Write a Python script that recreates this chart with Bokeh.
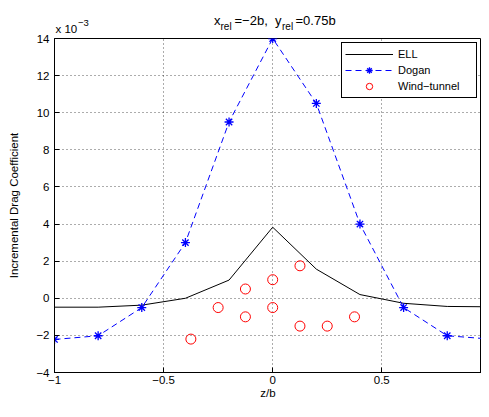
from bokeh.plotting import figure
from bokeh.layouts import column
from bokeh.models import Range1d, FixedTicker, Label, Legend, LegendItem
from bokeh.embed import file_html
from bokeh.resources import INLINE

# ---- data ----
z_ell = [-1.0, -0.8, -0.6, -0.4, -0.2, 0.0, 0.2, 0.4, 0.6, 0.8, 1.0]
cd_ell = [-0.48, -0.48, -0.37, 0.0, 0.98, 3.83, 1.57, 0.2, -0.27, -0.44, -0.46]
z_dogan = [-1.0, -0.8, -0.6, -0.4, -0.2, 0.0, 0.2, 0.4, 0.6, 0.8, 1.0]
cd_dogan = [-2.22, -2.02, -0.5, 3.0, 9.5, 14.0, 10.5, 4.0, -0.5, -2.02, -2.2]
z_wt = [-0.375, -0.25, -0.125, -0.125, 0.0, 0.0, 0.125, 0.125, 0.25, 0.375]
cd_wt = [-2.2, -0.5, 0.5, -1.0, 1.0, -0.5, 1.75, -1.5, -1.5, -1.0]
x_ticks = [-1, -0.5, 0, 0.5]
x_tick_labels = ["\u22121", "\u22120.5", "0", "0.5"]
y_ticks = [-4, -2, 0, 2, 4, 6, 8, 10, 12, 14]
y_tick_labels = ["\u22124", "\u22122", "0", "2", "4", "6", "8", "10", "12", "14"]

FONT = "Liberation Sans"
FS = "11.5px"
W = 481
TOP_H = 34
LEFT = 54

# ---- header strip (title + exponent); its frame is aligned with the plot frame ----
tf = figure(width=W, height=TOP_H, output_backend="svg", toolbar_location=None, title=None,
            x_range=Range1d(LEFT, W), y_range=Range1d(TOP_H, 0),
            x_axis_type=None, y_axis_type=None, min_border=0)
tf.min_border_left = LEFT
tf.outline_line_color = None
tf.grid.visible = False
tf.background_fill_color = "white"
tf.border_fill_color = "white"

title_parts = [
    ("x", 213.5, 20, "13px"),
    ("rel", 220.0, 26, "10px"),
    ("=\u22122b,", 234.0, 20, "13px"),
    ("y", 274.5, 20, "13px"),
    ("rel", 281.5, 26, "10px"),
    ("=0.75b", 295.0, 20, "13px"),
]
for txt, xx, yy, fs in title_parts:
    tf.add_layout(Label(x=xx, y=yy, text=txt, text_font=FONT, text_font_size=fs,
                        text_color="black", text_baseline="alphabetic", text_align="left"))
tf.add_layout(Label(x=55, y=28, text="x 10", text_font=FONT, text_font_size=FS,
                    text_color="black", text_baseline="alphabetic", text_align="left"))
tf.add_layout(Label(x=77.5, y=22.5, text="\u22123", text_font=FONT, text_font_size="9.5px",
                    text_color="black", text_baseline="alphabetic", text_align="left"))

# ---- main plot ----
p = figure(width=W, height=401 - TOP_H, output_backend="svg", toolbar_location=None, title=None,
           x_range=Range1d(-1, 0.957), y_range=Range1d(-4, 14),
           min_border_left=LEFT, min_border_top=38 - TOP_H, min_border_right=0, min_border_bottom=0)
p.background_fill_color = "white"
p.border_fill_color = "white"
p.outline_line_color = "black"
p.outline_line_width = 1
p.outline_line_alpha = 1

for ax in (p.xaxis[0], p.yaxis[0]):
    ax.axis_line_color = "black"
    ax.major_tick_line_color = "black"
    ax.major_tick_in = 5
    ax.major_tick_out = 0
    ax.minor_tick_in = 0
    ax.minor_tick_out = 0
    ax.major_label_text_font = FONT
    ax.major_label_text_font_size = FS
    ax.major_label_text_color = "black"
    ax.axis_label_text_font = FONT
    ax.axis_label_text_font_size = FS
    ax.axis_label_text_font_style = "normal"
    ax.axis_label_text_color = "black"

p.xaxis.ticker = FixedTicker(ticks=x_ticks)
p.xaxis.major_label_overrides = {t: l for t, l in zip(x_ticks, x_tick_labels)}
p.xaxis.major_label_standoff = 3
p.xaxis.axis_label = "z/b"
p.xaxis.axis_label_standoff = 0

p.yaxis.ticker = FixedTicker(ticks=y_ticks)
p.yaxis.major_label_overrides = {t: l for t, l in zip(y_ticks, y_tick_labels)}
p.yaxis.major_label_standoff = 5
p.yaxis.axis_label = "Incremental Drag Coefficient"
p.yaxis.axis_label_standoff = 13

p.xgrid.ticker = FixedTicker(ticks=x_ticks)
p.ygrid.ticker = FixedTicker(ticks=y_ticks)
for g in (p.xgrid[0], p.ygrid[0]):
    g.grid_line_color = "black"
    g.grid_line_alpha = 0.65
    g.grid_line_dash = "1 3"
    g.grid_line_width = 1

r_ell = p.line(z_ell, cd_ell, line_color="black", line_width=1)
r_dl = p.line(z_dogan, cd_dogan, line_color="#0000ff", line_width=1, line_dash="6 4")
r_ds = p.scatter(z_dogan, cd_dogan, marker="asterisk", size=9, line_color="#0000ff", line_width=1.3)
r_wt = p.scatter(z_wt, cd_wt, marker="circle", size=10, line_color="#ff0000",
                 fill_color=None, line_width=1)

legend = Legend(items=[LegendItem(label="ELL", renderers=[r_ell]),
                       LegendItem(label="Dogan", renderers=[r_dl, r_ds]),
                       LegendItem(label="Wind\u2212tunnel", renderers=[r_wt])],
                location="top_right")
legend.border_line_color = "black"
legend.border_line_width = 1
legend.border_line_alpha = 1
legend.background_fill_color = "white"
legend.background_fill_alpha = 1
legend.label_text_font = FONT
legend.label_text_font_size = "11px"
legend.label_text_color = "black"
legend.padding = 3
legend.spacing = 0
legend.glyph_width = 48
legend.glyph_height = 16
legend.label_height = 16
legend.label_width = 75
legend.label_standoff = 5
legend.margin = 4
p.add_layout(legend)

layout = column(tf, p, spacing=0)
open("out.html", "w").write(file_html(layout, INLINE))
